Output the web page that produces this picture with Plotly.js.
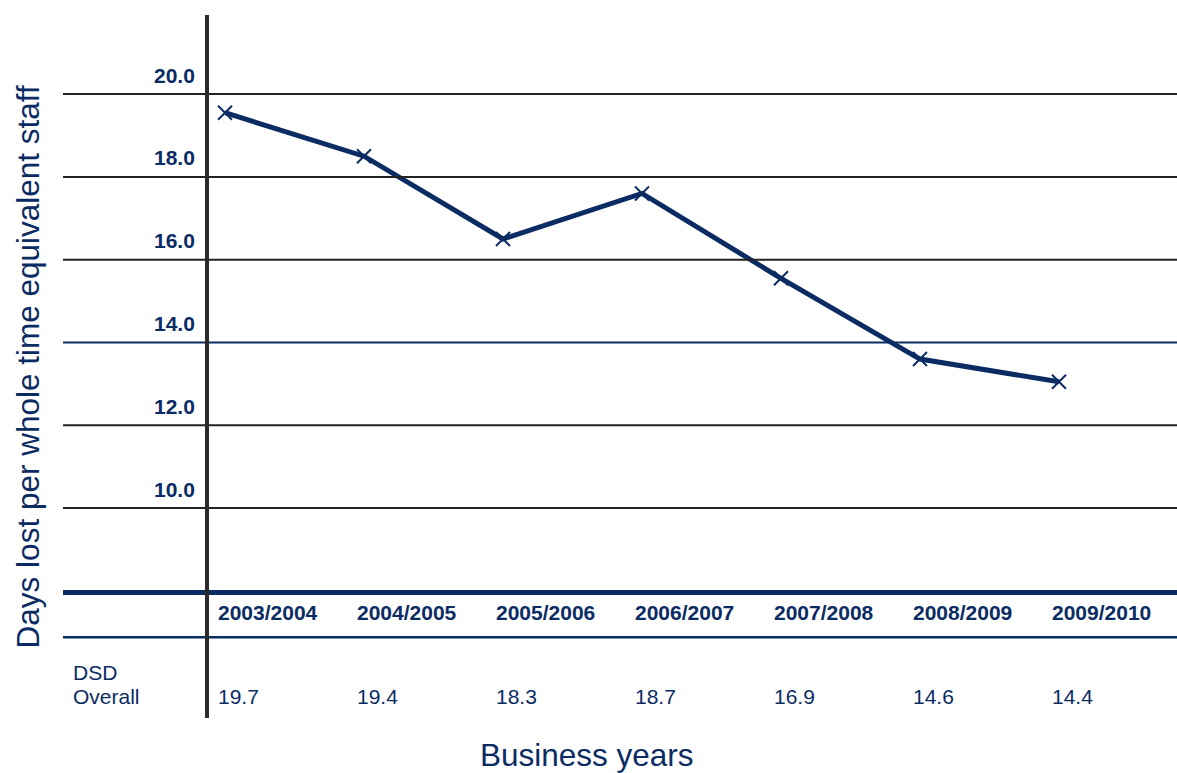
<!DOCTYPE html>
<html><head><meta charset="utf-8">
<script src="https://cdn.plot.ly/plotly-3.0.1.min.js"></script>
<style>html,body{margin:0;padding:0;background:#fff}#c{width:1177px;height:773px}</style>
</head><body><div id="c"></div>
<script>
const years = ["2003/2004","2004/2005","2005/2006","2006/2007","2007/2008","2008/2009","2009/2010"];
const daysLost = [19.55, 18.5, 16.5, 17.6, 15.55, 13.6, 13.05];
const dsdOverall = ["19.7","19.4","18.3","18.7","16.9","14.6","14.4"];
const gridValues = [10, 12, 14, 16, 18, 20];
const tickLabels = ["10.0","12.0","14.0","16.0","18.0","20.0"];

const navy = "#0b2c63";
const dark = "#222222";
const xs = years.map((_, i) => i);
const FONT = "Liberation Sans, Arial";

const shapes = [];
gridValues.forEach(v => {
  shapes.push({type:"line", xref:"paper", yref:"y", x0:0, x1:1, y0:v, y1:v,
    line:{color: v===14 ? navy : dark, width: 2}});
});
shapes.push({type:"line", xref:"paper", yref:"y", x0:0, x1:1, y0:7.96, y1:7.96, line:{color:navy, width:5}});
shapes.push({type:"line", xref:"paper", yref:"y", x0:0, x1:1, y0:6.88, y1:6.88, line:{color:navy, width:2.5}});
shapes.push({type:"line", xref:"x", yref:"paper", x0:-0.1295, x1:-0.1295, y0:0, y1:1, line:{color:"#2a2a2a", width:4}});

const annotations = [];
gridValues.forEach((v, i) => {
  annotations.push({xref:"x", yref:"y", x:-0.205, y:v, yshift:19, xanchor:"right", yanchor:"middle",
    text:"<b>"+tickLabels[i]+"</b>", showarrow:false, font:{family:FONT, size:21, color:navy}});
});
years.forEach((yr, i) => {
  annotations.push({xref:"x", yref:"y", x:i-0.065, y:7.47, xanchor:"left", yanchor:"middle",
    text:"<b>"+yr+"</b>", showarrow:false, font:{family:FONT, size:21, color:navy}});
  annotations.push({xref:"x", yref:"y", x:i-0.065, y:5.44, xanchor:"left", yanchor:"middle",
    text:dsdOverall[i], showarrow:false, font:{family:FONT, size:21, color:navy}});
});
annotations.push({xref:"x", yref:"y", x:-1.11, y:6.02, xanchor:"left", yanchor:"middle",
  text:"DSD", showarrow:false, font:{family:FONT, size:21, color:navy}});
annotations.push({xref:"x", yref:"y", x:-1.11, y:5.44, xanchor:"left", yanchor:"middle",
  text:"Overall", showarrow:false, font:{family:FONT, size:21, color:navy}});
annotations.push({xref:"paper", yref:"paper", x:-0.0315, y:0.5, textangle:-90, xanchor:"center", yanchor:"middle",
  text:"Days lost per whole time equivalent staff", showarrow:false, font:{family:FONT, size:31.5, color:navy}});
annotations.push({xref:"paper", yref:"paper", x:0.4705, y:-0.052, xanchor:"center", yanchor:"middle",
  text:"Business years", showarrow:false, font:{family:FONT, size:31.5, color:navy}});

const trace = {x: xs, y: daysLost, type:"scatter", mode:"lines+markers",
  line:{color:navy, width:5}, marker:{symbol:"x-thin", size:14, color:navy, line:{color:navy, width:2}},
  hoverinfo:"skip"};

const layout = {
  width:1177, height:773,
  margin:{l:63, r:0, t:15, b:55},
  paper_bgcolor:"#fff", plot_bgcolor:"#fff",
  showlegend:false,
  xaxis:{range:[-1.1655, 6.849], showgrid:false, zeroline:false, showticklabels:false, showline:false, fixedrange:true},
  yaxis:{range:[4.93, 21.91], showgrid:false, zeroline:false, showticklabels:false, showline:false, fixedrange:true},
  shapes: shapes,
  annotations: annotations
};
Plotly.newPlot("c", [trace], layout, {displayModeBar:false, staticPlot:true});
</script></body></html>
